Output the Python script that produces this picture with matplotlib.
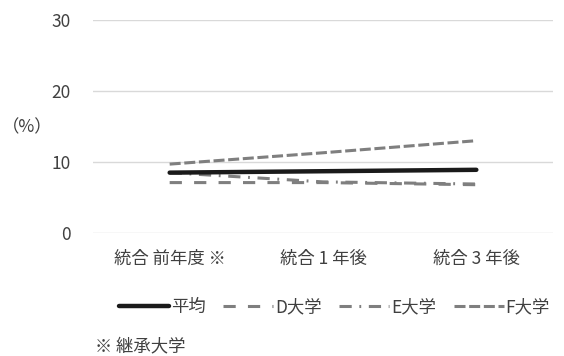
import matplotlib
matplotlib.use("Agg")
import matplotlib.pyplot as plt

plt.rcParams['font.family'] = ['Noto Sans CJK JP', 'DejaVu Sans']

categories = ["統合 前年度 ※", "統合 1 年後", "統合 3 年後"]
avg_vals = [8.5, 8.7, 8.9]
d_vals = [7.1, 7.1, 6.8]
e_vals = [8.5, 7.2, 6.9]
f_vals = [9.7, 11.3, 13.0]
yticks = [0, 10, 20, 30]

text_color = "#404040"
gray = "#7f7f7f"
fs = 12.5

fig = plt.figure(figsize=(5.64, 3.56), dpi=100)
ax = fig.add_axes([93 / 564, 1 - 233 / 356, 460 / 564, 213 / 356])

x = list(range(len(categories)))
ax.plot(x, avg_vals, color="#1a1a1a", lw=3.2, solid_capstyle="round", label="平均", zorder=5)
ax.plot(x, d_vals, color=gray, lw=2.2, dashes=(4, 4), label="D大学", zorder=4)
ax.plot(x, e_vals, color=gray, lw=2.2, dashes=(4, 2.5, 0.6, 2.5), label="E大学", zorder=4)
ax.plot(x, f_vals, color=gray, lw=2.2, dashes=(3.6, 1.2), label="F大学", zorder=4)

ax.set_xlim(-0.5, 2.5)
ax.set_ylim(0, 30)
ax.set_yticks(yticks)
ax.set_xticks(x)
ax.set_xticklabels(categories)
ax.grid(axis="y", color="#d9d9d9", lw=1)
ax.set_axisbelow(True)
for s in ax.spines.values():
    s.set_visible(False)
ax.tick_params(length=0, labelsize=fs, colors=text_color)
ax.tick_params(axis="y", pad=16)
ax.tick_params(axis="x", pad=12)

fig.text(2 / 564, 1 - 127 / 356, "（%）", fontsize=fs, color=text_color, va="center", ha="left")

leg = fig.legend(loc="center", bbox_to_anchor=(0.593, 1 - 307 / 356), ncol=4, frameon=False,
                 fontsize=fs, handlelength=2.9, handletextpad=0.1, columnspacing=1.0,
                 labelcolor=text_color)

fig.text(95 / 564, 1 - 346 / 356, "※ 継承大学", fontsize=fs, color=text_color, va="center", ha="left")

fig.savefig("out.png", dpi=100)
